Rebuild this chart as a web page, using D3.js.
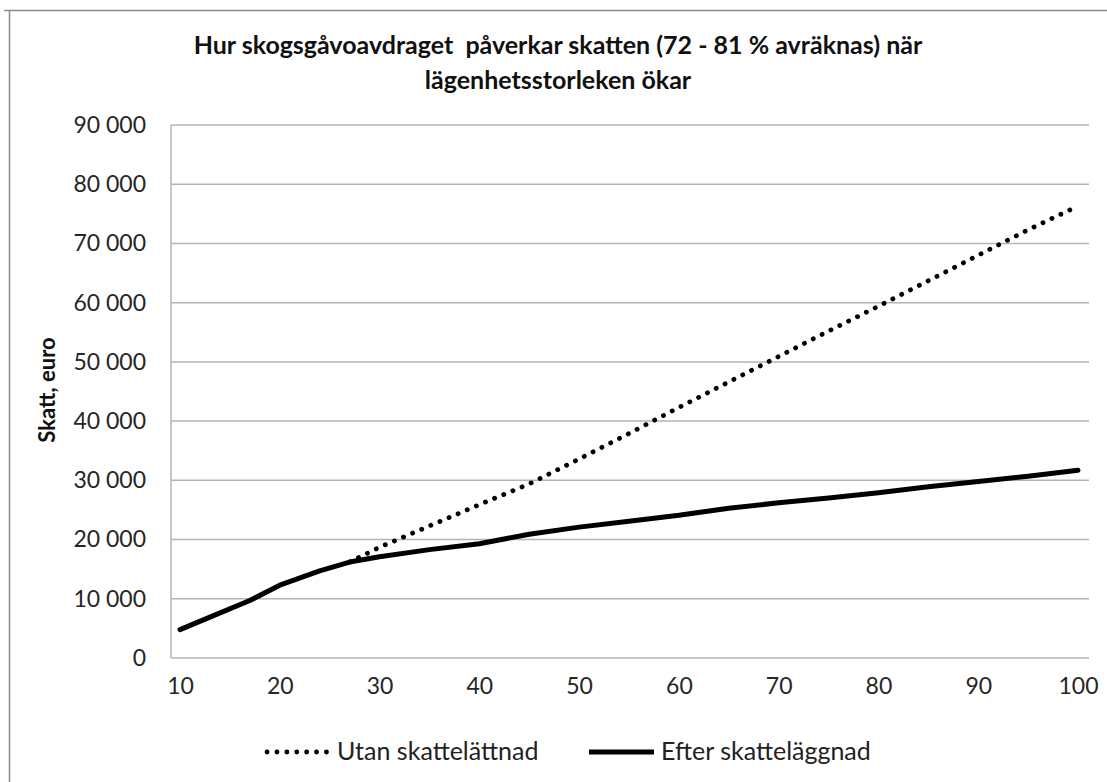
<!DOCTYPE html>
<html>
<head>
<meta charset="utf-8">
<script src="https://cdn.jsdelivr.net/npm/d3@7"></script>
<style>
  body { margin: 0; background: #fff; }
  text { font-family: Lato, "Open Sans", sans-serif; }
</style>
</head>
<body>
<div class="chart"></div>
<script>
// data
var sizes = [10, 13, 17, 20, 24, 27, 30, 35, 40, 45, 50, 55, 60, 65, 70, 75, 80, 85, 90, 95, 100];
var taxAfter = [4800, 6900, 9700, 12300, 14700, 16200, 17100, 18300, 19300, 20900, 22100, 23100, 24100, 25300, 26200, 27000, 27900, 28900, 29800, 30700, 31700];
var sizesNoRelief = [27, 30, 35, 40, 45, 50, 55, 60, 65, 70, 75, 80, 85, 90, 95, 100];
var taxNoRelief = [16200, 18700, 22300, 25900, 29400, 33600, 37900, 42300, 46600, 50900, 55200, 59400, 63700, 68000, 72300, 76300];
var yTicks = [0, 10000, 20000, 30000, 40000, 50000, 60000, 70000, 80000, 90000];
var xTicks = [10, 20, 30, 40, 50, 60, 70, 80, 90, 100];
var titleLines = ["Hur skogsgåvoavdraget  påverkar skatten (72 - 81 % avräknas) när", "lägenhetsstorleken ökar"];
var yLabel = "Skatt, euro";
var seriesNames = ["Utan skattelättnad", "Efter skatteläggnad"];

var svgWidth = 1107;
var svgHeight = 782;

var margin = {
  top: 125,
  right: 18,
  bottom: 124,
  left: 171
};

var width = svgWidth - margin.left - margin.right;
var height = svgHeight - margin.top - margin.bottom;

var svg = d3
  .select(".chart")
  .append("svg")
  .attr("width", svgWidth)
  .attr("height", svgHeight);

// outer frame (only top + left edges visible)
svg.append("path")
  .attr("d", "M4,10.5H1107M9.5,10V782")
  .attr("fill", "none")
  .attr("stroke", "#8a8a8a")
  .attr("stroke-width", 1.5);

var chartGroup = svg.append("g")
  .attr("transform", `translate(${margin.left}, ${margin.top})`);

var xLinearScale = d3.scaleLinear()
  .domain([10, 100])
  .range([9, 907]);

var yLinearScale = d3.scaleLinear()
  .domain([0, 90000])
  .range([height, 0]);

var fmt = d => d3.format(",")(d).replace(/,/g, " ");

// gridlines
chartGroup.append("g")
  .selectAll("line")
  .data(yTicks)
  .enter()
  .append("line")
  .attr("x1", 0)
  .attr("x2", width)
  .attr("y1", d => yLinearScale(d))
  .attr("y2", d => yLinearScale(d))
  .attr("stroke", "#b4b4b4")
  .attr("stroke-width", 1.5);

// left axis line
chartGroup.append("line")
  .attr("x1", 0)
  .attr("x2", 0)
  .attr("y1", 0)
  .attr("y2", height)
  .attr("stroke", "#b4b4b4")
  .attr("stroke-width", 1.5);

// y axis
var leftAxis = d3.axisLeft(yLinearScale)
  .tickValues(yTicks)
  .tickFormat(fmt)
  .tickSize(0)
  .tickPadding(25);

chartGroup.append("g")
  .call(leftAxis)
  .call(g => g.select(".domain").remove())
  .selectAll("text")
  .attr("font-size", 23)
  .attr("font-family", "Lato")
  .attr("fill", "#262626");

// x axis
var bottomAxis = d3.axisBottom(xLinearScale)
  .tickValues(xTicks)
  .tickSize(0)
  .tickPadding(20);

chartGroup.append("g")
  .attr("transform", `translate(0, ${height})`)
  .call(bottomAxis)
  .call(g => g.select(".domain").remove())
  .selectAll("text")
  .attr("font-size", 23)
  .attr("font-family", "Lato")
  .attr("fill", "#262626");

var line = d3.line()
  .x(d => xLinearScale(d[0]))
  .y(d => yLinearScale(d[1]));

// dotted series
chartGroup.append("path")
  .datum(d3.zip(sizesNoRelief, taxNoRelief))
  .attr("d", line)
  .attr("fill", "none")
  .attr("stroke", "#000")
  .attr("stroke-width", 4.8)
  .attr("stroke-linecap", "round")
  .attr("stroke-dasharray", "0.1 9.8");

// solid series
chartGroup.append("path")
  .datum(d3.zip(sizes, taxAfter))
  .attr("d", line)
  .attr("fill", "none")
  .attr("stroke", "#000")
  .attr("stroke-width", 5)
  .attr("stroke-linecap", "round")
  .attr("stroke-linejoin", "round");

// title
svg.append("g")
  .selectAll("text")
  .data(titleLines)
  .enter()
  .append("text")
  .attr("x", 558)
  .attr("y", (d, i) => 54 + i * 35)
  .attr("text-anchor", "middle")
  .attr("font-weight", "bold")
  .attr("font-size", 25)
  .attr("fill", "#111")
  .style("white-space", "pre")
  .text(d => d);

// y axis label
svg.append("text")
  .attr("transform", "translate(55, 390) rotate(-90)")
  .attr("text-anchor", "middle")
  .attr("font-weight", "bold")
  .attr("font-size", 22)
  .attr("fill", "#111")
  .text(yLabel);

// legend
var legend = svg.append("g");

legend.append("line")
  .attr("x1", 267).attr("x2", 331)
  .attr("y1", 752).attr("y2", 752)
  .attr("stroke", "#000")
  .attr("stroke-width", 4.8)
  .attr("stroke-linecap", "round")
  .attr("stroke-dasharray", "0.1 9.8");

legend.append("text")
  .attr("x", 337)
  .attr("y", 760)
  .attr("font-size", 25)
  .attr("fill", "#222")
  .text(seriesNames[0]);

legend.append("line")
  .attr("x1", 589).attr("x2", 654)
  .attr("y1", 752).attr("y2", 752)
  .attr("stroke", "#000")
  .attr("stroke-width", 5);

legend.append("text")
  .attr("x", 661)
  .attr("y", 760)
  .attr("font-size", 25)
  .attr("fill", "#222")
  .text(seriesNames[1]);
</script>
</body>
</html>
